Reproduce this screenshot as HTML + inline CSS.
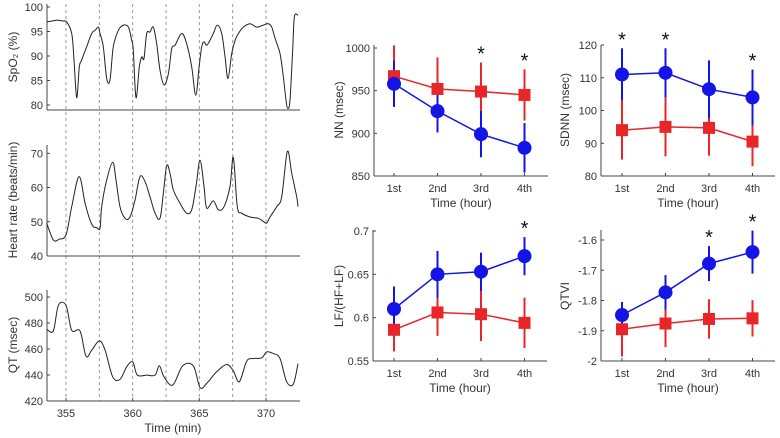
<!DOCTYPE html>
<html><head><meta charset="utf-8">
<style>
body{margin:0;background:#fff;}
svg{display:block;font-family:"Liberation Sans",Arial,sans-serif;}
</style></head>
<body>
<svg id="fig" width="780" height="438" viewBox="0 0 780 438" xmlns="http://www.w3.org/2000/svg"></svg>
<script>
// ---- left time series data ----
const spoTimes=[353.55,354.3,354.8,355.05,355.43,355.6,355.8,356.0,356.18,356.55,356.93,357.18,357.43,357.55,357.8,358.05,358.3,358.55,358.93,359.3,359.68,359.93,360.05,360.25,360.5,360.68,360.85,361.05,361.3,361.55,361.8,362.05,362.35,362.68,362.93,363.18,363.68,364.05,364.43,364.73,364.98,365.18,365.35,365.55,365.8,366.05,366.35,366.68,366.93,367.15,367.43,367.68,367.93,368.3,368.8,369.3,369.8,370.18,370.43,370.68,371.05,371.3,371.5,371.63,371.8,372.0,372.13,372.4];
const spoValues=[96.95,97.3,97.15,96.95,94.6,89.2,81.5,87.8,89.2,91.9,94.6,95.25,95.9,94.6,91.9,85.4,85.1,91.9,95.25,96.3,95.9,93.2,91.2,81.5,87.8,89.8,89.5,94.6,94.9,95.9,92.5,87.1,84.1,86.4,91.5,92.2,94.6,92.5,87.8,82.0,87.8,91.9,92.9,92.2,93.2,94.6,96.3,94.6,89.8,85.4,90.5,93.2,94.6,95.9,96.6,95.9,96.3,96.6,95.9,93.6,90.5,85.8,81.0,79.3,81.0,91.2,98.0,98.3];
const hrTimes=[353.55,354.05,354.5,355.0,355.43,355.98,356.43,356.8,357.05,357.3,357.55,357.68,358.05,358.5,358.75,359.05,359.43,359.8,360.18,360.55,360.93,361.3,361.68,362.05,362.3,362.55,362.8,363.05,363.55,364.05,364.43,364.75,365.05,365.35,365.55,366.05,366.43,366.85,367.3,367.55,367.85,368.18,368.8,369.43,369.8,370.05,370.3,370.8,371.18,371.6,371.93,372.3,372.4];
const hrValues=[49.6,44.7,44.9,46.2,54.4,63.2,55.4,50.5,48.6,48.3,48.1,54.4,62.2,67.4,62.2,54.4,51.0,51.4,56.4,63.2,61.7,57.3,52.5,51.0,58.3,66.4,64.2,59.3,55.4,52.5,53.5,60.3,68.0,60.3,54.0,56.1,53.5,54.4,60.3,68.8,54.4,52.5,51.4,51.0,50.1,49.6,51.4,54.4,57.3,70.5,64.2,57.3,54.4];
const qtTimes=[353.55,354.05,354.43,355.0,355.43,356.05,356.5,356.93,357.5,357.93,358.5,359.05,359.55,360.0,360.35,361.05,361.68,362.0,362.35,363.0,363.75,364.55,365.05,365.55,366.3,367.05,367.55,368.0,368.55,369.05,369.68,370.05,370.55,371.05,371.55,372.05,372.4];
const qtValues=[475.2,473.9,493.6,493.6,474.4,473.9,454.5,459.1,466.2,459.1,438.6,436.6,446.3,450.1,439.9,439.9,439.9,447.1,438.6,432.2,447.1,447.1,430.4,433.5,442.5,448.1,443.2,434.8,450.6,452.7,453.2,457.8,456.5,452.7,434.8,433.0,448.8];
const eventTimes=[355,357.5,360,362.5,365,367.5,370];
const timeTicks=[355,360,365,370];
// ---- right panels data ----
const hourLabels=["1st","2nd","3rd","4th"];
const nnBlue=[958,926,899,883], nnBlueErr=[27,25,27,29];
const nnRed=[967,952,949,945], nnRedErr=[36,37,34,30];
const nnSig=[0,0,1,1];
const sdBlue=[111,111.5,106.5,104], sdBlueErr=[8,7.5,8.8,8.5];
const sdRed=[94,95,94.7,90.5], sdRedErr=[9,9,8.5,7.5];
const sdSig=[1,1,0,1];
const lfBlue=[0.61,0.650,0.653,0.671], lfBlueErr=[0.026,0.027,0.022,0.022];
const lfRed=[0.586,0.606,0.604,0.594], lfRedErr=[0.025,0.027,0.031,0.029];
const lfSig=[0,0,0,1];
const qvBlue=[-1.848,-1.773,-1.678,-1.640], qvBlueErr=[0.043,0.057,0.058,0.071];
const qvRed=[-1.895,-1.876,-1.861,-1.859], qvRedErr=[0.09,0.078,0.065,0.06];
const qvSig=[0,0,1,1];

const NS="http://www.w3.org/2000/svg";
const svg=document.getElementById('fig');
function mk(tag,attrs,parent){const e=document.createElementNS(NS,tag);for(const k in attrs)e.setAttribute(k,attrs[k]);(parent||svg).appendChild(e);return e;}
function txt(s,x,y,size,anchor,parent,rot){const t=mk('text',{x:x,y:y,'font-size':size,'text-anchor':anchor||'middle',fill:'#333'},parent);if(rot)t.setAttribute('transform','rotate(-90 '+x+' '+y+')');t.textContent=s;return t;}
function smooth(pts){let d='M'+pts[0][0].toFixed(1)+','+pts[0][1].toFixed(1);
  for(let i=0;i<pts.length-1;i++){const p0=pts[Math.max(0,i-1)],p1=pts[i],p2=pts[i+1],p3=pts[Math.min(pts.length-1,i+2)];
    const c1x=p1[0]+(p2[0]-p0[0])/6,c1y=p1[1]+(p2[1]-p0[1])/6,c2x=p2[0]-(p3[0]-p1[0])/6,c2y=p2[1]-(p3[1]-p1[1])/6;
    d+='C'+c1x.toFixed(1)+','+c1y.toFixed(1)+' '+c2x.toFixed(1)+','+c2y.toFixed(1)+' '+p2[0].toFixed(1)+','+p2[1].toFixed(1);}
  return d;}

const tx=t=>66+(t-355)*13.333;
const leftPanels=[
 {name:'spo2',times:spoTimes,vals:spoValues,v0:80,y0:105,v1:100,y1:7,bot:110,top:4,ticks:[80,85,90,95,100],title:'SpO\u2082 (%)',ty:57},
 {name:'heart-rate',times:hrTimes,vals:hrValues,v0:40,y0:256,v1:70,y1:153.3,bot:256,top:145,ticks:[40,50,60,70],title:'Heart rate (beats/min)',ty:200},
 {name:'qt',times:qtTimes,vals:qtValues,v0:420,y0:401,v1:500,y1:297,bot:401,top:290,ticks:[420,440,460,480,500],title:'QT (msec)',ty:345}
];
eventTimes.forEach(t=>{
  const l=mk('line',{x1:tx(t),x2:tx(t),y1:4,y2:401,stroke:'#999','stroke-width':1,'stroke-dasharray':'3,3'});
  
  
});
leftPanels.forEach(p=>{
  const g=mk('g',{});
  
  
  const ys=v=>p.y0+(v-p.v0)*(p.y1-p.y0)/(p.v1-p.v0);
  mk('line',{x1:47,x2:300,y1:p.bot,y2:p.bot,stroke:'#444','stroke-width':1},g);
  mk('line',{x1:47,x2:47,y1:p.top,y2:p.bot,stroke:'#444','stroke-width':1},g);
  p.ticks.forEach(v=>{mk('line',{x1:47,x2:50,y1:ys(v),y2:ys(v),stroke:'#444'},g);
    const t=txt(String(v),43,ys(v)+4,11,'end',g);});
  const pts=p.times.map((t,i)=>[tx(t),ys(p.vals[i])]);
  const path=mk('path',{d:smooth(pts),fill:'none',stroke:'#222','stroke-width':1,'stroke-linejoin':'round'},g);
  
  
  const yt=txt(p.title,17,p.ty,12,'middle',g,true);
  
  
});
timeTicks.forEach(t=>{mk('line',{x1:tx(t),x2:tx(t),y1:401,y2:398,stroke:'#444'});
  const l=txt(String(t),tx(t),417,11,'middle');});
const xt=txt('Time (min)',173,432,12,'middle');



const rightPanels=[
 {name:'nn',ax:374,hx:394,bot:176,top:45,v0:850,y0:176,v1:1000,y1:48,ticks:[850,900,950,1000],blue:nnBlue,be:nnBlueErr,red:nnRed,re:nnRedErr,sig:nnSig,title:'NN (msec)',tX:343,tY:110},
 {name:'sdnn',ax:601,hx:622,bot:176,top:45,v0:80,y0:176,v1:120,y1:45,ticks:[80,90,100,110,120],blue:sdBlue,be:sdBlueErr,red:sdRed,re:sdRedErr,sig:sdSig,title:'SDNN (msec)',tX:569,tY:110},
 {name:'lf-ratio',ax:373,hx:394,bot:361,top:230,v0:0.55,y0:361,v1:0.7,y1:231,ticks:[0.55,0.6,0.65,0.7],blue:lfBlue,be:lfBlueErr,red:lfRed,re:lfRedErr,sig:lfSig,title:'LF/(HF+LF)',tX:343,tY:296},
 {name:'qtvi',ax:601,hx:622,bot:361,top:230,v0:-2,y0:361,v1:-1.6,y1:240,ticks:[-2,-1.9,-1.8,-1.7,-1.6],blue:qvBlue,be:qvBlueErr,red:qvRed,re:qvRedErr,sig:qvSig,title:'QTVI',tX:569,tY:296}
];
rightPanels.forEach(p=>{
  const g=mk('g',{});
  
  
  const ys=v=>p.y0+(v-p.v0)*(p.y1-p.y0)/(p.v1-p.v0);
  const xs=i=>p.hx+i*43.5;
  mk('line',{x1:p.ax,x2:p.ax+174,y1:p.bot,y2:p.bot,stroke:'#444'},g);
  mk('line',{x1:p.ax,x2:p.ax,y1:p.top,y2:p.bot,stroke:'#444'},g);
  p.ticks.forEach(v=>{mk('line',{x1:p.ax,x2:p.ax+3,y1:ys(v),y2:ys(v),stroke:'#444'},g);
    const t=txt(String(v),p.ax-4,ys(v)+4,11,'end',g);});
  hourLabels.forEach((h,i)=>{mk('line',{x1:xs(i),x2:xs(i),y1:p.bot,y2:p.bot-3,stroke:'#444'},g);
    const t=txt(h,xs(i),p.bot+16,11,'middle',g);});
  const at=txt('Time (hour)',p.ax+87,p.bot+31,12,'middle',g);
  
  
  const yt=txt(p.title,p.tX,p.tY,12,'middle',g,true);
  
  
  const series=[{m:p.red,e:p.re,c:'#e8262a',sq:true,n:'red'},{m:p.blue,e:p.be,c:'#1414e6',sq:false,n:'blue'}];
  series.forEach(s=>{
    s.m.forEach((v,i)=>{const eb=mk('line',{x1:xs(i),x2:xs(i),y1:ys(v-s.e[i]),y2:ys(v+s.e[i]),stroke:s.c,'stroke-width':2},g);
      
      });
  });
  series.forEach(s=>{
    let d='';s.m.forEach((v,i)=>{d+=(i?'L':'M')+xs(i)+','+ys(v).toFixed(1);});
    const ln=mk('path',{d:d,fill:'none',stroke:s.c,'stroke-width':1.5},g);
    
    
    s.m.forEach((v,i)=>{let mkr;
      if(s.sq) mkr=mk('rect',{x:xs(i)-6,y:ys(v)-6,width:12,height:12,fill:s.c},g);
      else mkr=mk('circle',{cx:xs(i),cy:ys(v),r:7,fill:s.c},g);
      
      });
  });
  p.sig.forEach((f,i)=>{if(!f)return;
    const top=Math.max(p.blue[i]+p.be[i],p.red[i]+p.re[i]);
    const st=mk('text',{x:xs(i),y:ys(top)-2,'font-size':20,'text-anchor':'middle',fill:'#111'},g);
    st.textContent='*';
    
    });
});
</script>
</body></html>
